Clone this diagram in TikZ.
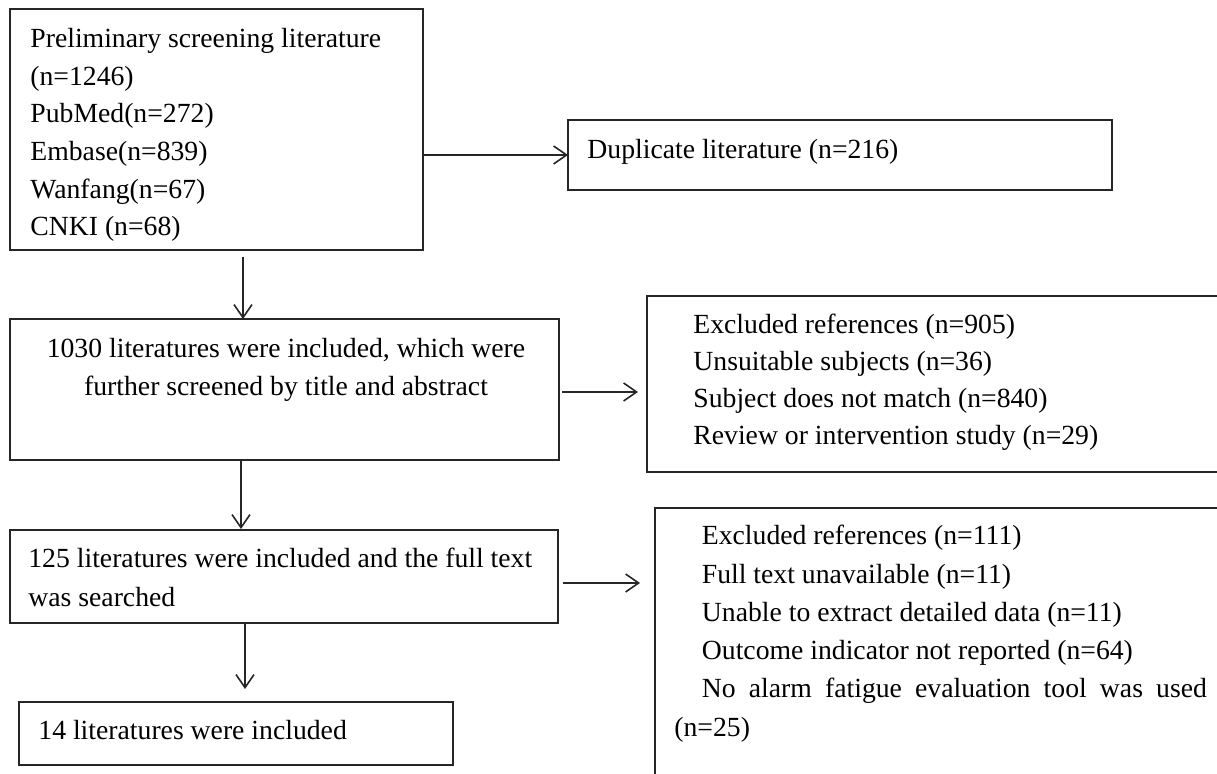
\documentclass[tikz,border=0pt]{standalone}
\usepackage{fontspec}
\setmainfont{Liberation Serif}
\usetikzlibrary{arrows.meta,calc}

\tikzset{
  box/.style={draw=black!85, line width=1pt, inner sep=0pt, outer sep=0pt, anchor=north west},
  txt/.style={inner sep=0pt, anchor=base west, font=\fontsize{13.85}{16}\selectfont},
  arr/.style={draw=black!85, line width=0.8pt, -{Straight Barb[length=6.5pt,width=9pt]}}
}

\begin{document}
\begin{tikzpicture}[x=0.5pt, y=-0.5pt]
		%%%%% START %%%%%
		\useasboundingbox (0,0) rectangle (1217,774);
		\fill[white] (0,0) rectangle (1217,774);
		
		% boxes
		\node[box, minimum width=206.5pt, minimum height=120.5pt] (srch) at (10,9) {};
		\node[box, minimum width=272pt, minimum height=35pt] (dup) at (568,120) {};
		\node[box, minimum width=274.5pt, minimum height=70.5pt] (scr) at (10,319) {};
		\node[box, minimum width=300pt, minimum height=88pt] (exr) at (647,296) {};
		\node[box, minimum width=274pt, minimum height=46.5pt] (ful) at (10,530) {};
		\node[box, minimum width=300pt, minimum height=200pt] (exf) at (655,508) {};
		\node[box, minimum width=217pt, minimum height=31.5pt] (inc) at (19,702) {};
		
		% texts
		\foreach \t [count=\i from 0] in {Preliminary screening literature, (n=1246), PubMed(n=272), Embase(n=839), Wanfang(n=67), CNKI (n=68)}
			\node[txt] (srch-\i) at (30,47.5+37.7*\i) {\t};
		\node[txt] (dup-0) at (587,159) {Duplicate literature (n=216)};
		\foreach \t [count=\i from 0] in {{1030 literatures were included, which were}, further screened by title and abstract}
			\node[txt, anchor=base] (scr-\i) at (286,358+38*\i) {\t};
		\foreach \t [count=\i from 0] in {Excluded references (n=905), Unsuitable subjects (n=36), Subject does not match (n=840), Review or intervention study (n=29)}
			\node[txt] (exr-\i) at (693,334+37*\i) {\t};
		\node[txt] (ful-0) at (28,568) {125 literatures were included and the full text};
		\node[txt] (ful-1) at (28,607) {was searched};
		\foreach \t [count=\i from 0] in {Excluded references (n=111), Full text unavailable (n=11), Unable to extract detailed data (n=11), Outcome indicator not reported (n=64)}
			\node[txt] (exf-\i) at (701.5,545+38.3*\i) {\t};
		\node[txt] (exf-4) at (701.5,698) {\makebox[252.5pt][s]{No alarm fatigue evaluation tool was used}};
		\node[txt] (exf-5) at (674,737) {(n=25)};
		\node[txt] (inc-0) at (38,740) {14 literatures were included};
		
		% arrows
		\draw[arr] (srch.east |- dup.west) -- (dup.west);
		\draw[arr] ($(srch.south)+(26.5,7)$) -- ($(scr.north)+(-41.5,0)$);
		\draw[arr] ($(scr.east)+(3,2.5)$) -- ($(scr.east -| exr.west)+(-9,2.5)$);
		\draw[arr] ($(scr.south)+(-43.5,0)$) -- ($(ful.north)+(-43,-1)$);
		\draw[arr] ($(ful.east)+(5,6.5)$) -- ($(ful.east -| exf.west)+(-15,6.5)$);
		\draw[arr] ($(ful.south)+(-39,0)$) -- ($(inc.north)+(9,-13)$);
		
		%%%%% END %%%%%
\end{tikzpicture}
\end{document}
